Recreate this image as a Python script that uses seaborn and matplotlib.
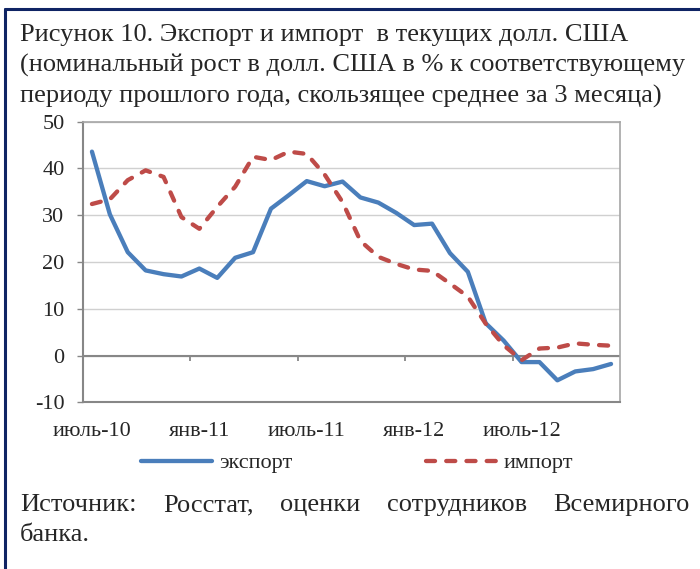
import matplotlib.pyplot as plt
import numpy as np
import pandas as pd
import seaborn as sns
from matplotlib.lines import Line2D

W, H = 700, 569

months = [
    "июль-10", "авг-10", "сен-10", "окт-10", "ноя-10", "дек-10",
    "янв-11", "фев-11", "мар-11", "апр-11", "май-11", "июнь-11",
    "июль-11", "авг-11", "сен-11", "окт-11", "ноя-11", "дек-11",
    "янв-12", "фев-12", "мар-12", "апр-12", "май-12", "июнь-12",
    "июль-12", "авг-12", "сен-12", "окт-12", "ноя-12", "дек-12",
]
export = [43.6, 30.2, 22.1, 18.2, 17.4, 16.9, 18.6, 16.6, 20.9, 22.1,
          31.4, 34.3, 37.3, 36.2, 37.2, 33.8, 32.7, 30.5, 27.9, 28.2,
          21.9, 17.9, 6.9, 3.2, -1.4, -1.4, -5.3, -3.4, -2.9, -1.8]
imports = [32.4, 33.4, 37.5, 39.6, 38.2, 29.6, 27.1, 31.8, 36.1, 42.5,
           41.8, 43.6, 43.1, 38.7, 32.8, 24.5, 21.1, 19.6, 18.4, 18.1,
           15.4, 12.6, 6.8, 2.2, -1.0, 1.5, 1.7, 2.6, 2.3, 2.1]
series_names = ["экспорт", "импорт"]
yticks = [-10, 0, 10, 20, 30, 40, 50]

title_lines = [
    "Рисунок 10. Экспорт и импорт  в текущих долл. США",
    "(номинальный рост в долл. США в % к соответствующему",
    "периоду прошлого года, скользящее среднее за 3 месяца)",
]
source_line1 = "Источник: Росстат, оценки сотрудников Всемирного"
source_line2 = "банка."

sns.set_theme(style="white")
plt.rcParams["font.family"] = ["Liberation Serif", "DejaVu Serif"]
plt.rcParams["axes.unicode_minus"] = False

pos = np.arange(len(months))
df = pd.DataFrame({
    "pos": np.concatenate([pos, pos]),
    "value": export + imports,
    "series": [series_names[0]] * len(export) + [series_names[1]] * len(imports),
})

fig = plt.figure(figsize=(W / 100, H / 100), dpi=100)
ax = fig.add_axes([83 / W, 1 - 402.3 / H, 537 / W, 280.6 / H])

sns.lineplot(
    data=df, x="pos", y="value", hue="series", style="series",
    palette={"экспорт": "#4a7ebb", "импорт": "#be4b48"},
    dashes={"экспорт": "", "импорт": (2.1, 2.6)},
    linewidth=3.1, ax=ax, legend=False, zorder=3,
)
series_lines = ax.get_lines()[:2]
for line in series_lines:
    line.set_dash_capstyle("round")
    line.set_solid_capstyle("round")
    line.set_solid_joinstyle("round")

ax.set_xlim(-0.5, len(months) - 0.5)
ax.set_ylim(-10, 50)
ax.set_yticks(yticks)
ax.set_xticks(pos[::6])
ax.set_xticklabels(months[::6])
ax.set_xlabel("")
ax.set_ylabel("")
ax.yaxis.grid(True, color="#d0d0d0", linewidth=1)
ax.xaxis.grid(False)
ax.axhline(0, color="#878787", linewidth=1.5, zorder=2)
ax.vlines(pos[5:-1:6] + 0.5, -1.1, 0, color="#878787", linewidth=1.3, zorder=2)

ax.tick_params(axis="y", length=4.3, width=1, color="#878787", pad=9,
               labelsize=16, left=True)
ax.tick_params(axis="x", length=0, pad=14, labelsize=16)
for side in ["left", "bottom"]:
    ax.spines[side].set_color("#878787")
    ax.spines[side].set_linewidth(1.5)
for side in ["top", "right"]:
    ax.spines[side].set_color("#a6a6a6")
    ax.spines[side].set_linewidth(1.2)

fig.legend(
    series_lines, series_names, loc="center",
    bbox_to_anchor=(357 / W, 1 - 463 / H), ncol=2, frameon=False,
    fontsize=16, handlelength=3.2, columnspacing=6.0, handletextpad=0.3,
)

for i, line in enumerate(title_lines):
    fig.text(20 / W, 1 - (41 + 31 * i) / H, line, fontsize=19, va="baseline")

# justified first line of the source note
renderer = fig.canvas.get_renderer()
words = source_line1.split()
texts = [fig.text(0, 1 - 511 / H, w, fontsize=19, va="baseline") for w in words]
widths = [t.get_window_extent(renderer).width for t in texts]
gap = (670 - sum(widths)) / (len(words) - 1)
x = 20
for t, w in zip(texts, widths):
    t.set_x(x / W)
    x += w + gap
fig.text(20 / W, 1 - 541 / H, source_line2, fontsize=19, va="baseline")

navy = "#0f2464"
fig.add_artist(Line2D([5 / W, 1], [1 - 8.5 / H, 1 - 8.5 / H], color=navy, linewidth=2.2))
fig.add_artist(Line2D([5 / W, 5 / W], [0, 1 - 8.5 / H], color=navy, linewidth=2.2))

fig.savefig("out.png", dpi=100)
